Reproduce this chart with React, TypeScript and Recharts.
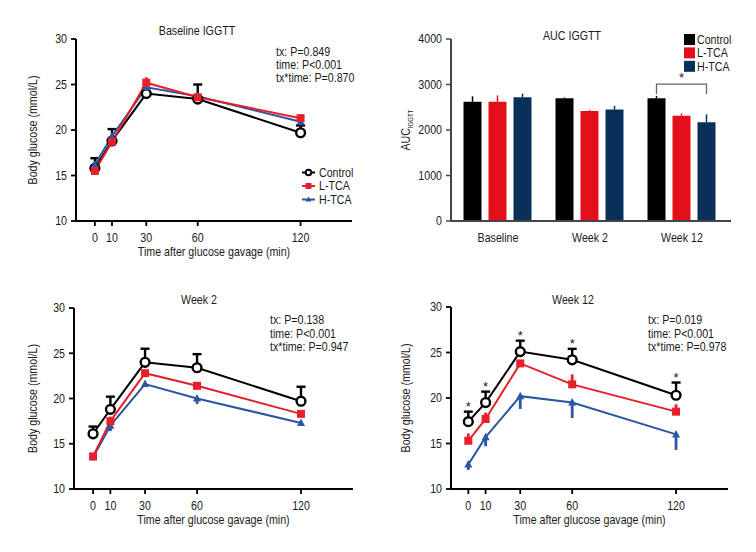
import {
  LineChart,
  Line,
  XAxis,
  YAxis,
  ErrorBar,
  ReferenceDot,
  Legend,
  BarChart,
  Bar,
  Label,
  LabelList,
} from "recharts";

const FONT = "'Liberation Sans', Arial, sans-serif";
const INK = "#1a1a1a";
const SQ = 0.82; // horizontal squeeze to mimic the condensed typeface
const FS = 13;
const RED = "#e5202a";
const BLUE = "#2c55a2";
const BAR_RED = "#e3101b";
const BAR_NAVY = "#08305a";
const BAR_GAP = 7;

const times = [0, 10, 30, 60, 120];
const timeTicks = [0, 10, 30, 60, 120];
const glucoseTicks = [10, 15, 20, 25, 30];

// baseline IGGTT
const baseControl = [15.8, 18.8, 24.0, 23.4, 19.7];
const baseControlSd = [1.1, 1.3, 0.6, 1.6, 0.8];
const baseL = [15.5, 18.7, 25.2, 23.6, 21.3];
const baseLSd = [0.3, 0.3, 0.6, 0.3, 0.4];
const baseH = [16.2, 19.3, 24.7, 23.7, 20.9];
const baseHSd = [0.4, 0.5, 0.4, 0.3, 0.4];

// week 2
const w2Control = [16.1, 18.8, 24.0, 23.4, 19.7];
const w2ControlSd = [0.8, 1.4, 1.5, 1.5, 1.6];
const w2L = [13.6, 17.5, 22.8, 21.4, 18.3];
const w2LSd = [0.3, 0.5, 0.3, 0.3, 0.4];
const w2H = [13.5, 17.0, 21.6, 20.0, 17.3];
const w2HSd = [0.3, 0.6, 0.3, 0.6, 0.3];

// week 12
const w12Control = [17.4, 19.5, 25.1, 24.2, 20.3];
const w12ControlSd = [1.1, 1.2, 1.2, 1.2, 1.4];
const w12L = [15.3, 17.7, 23.8, 21.5, 18.5];
const w12LSd = [0.8, 0.7, 0.3, 1.1, 0.8];
const w12H = [12.7, 15.7, 20.2, 19.5, 16.0];
const w12HSd = [0.6, 1.0, 1.4, 1.7, 1.7];

// AUC
const aucGroups = ["Baseline", "Week 2", "Week 12"];
const aucControl = [2620, 2700, 2700];
const aucControlSd = [120, 15, 50];
const aucL = [2620, 2420, 2315];
const aucLSd = [140, 20, 50];
const aucH = [2720, 2450, 2170];
const aucHSd = [80, 80, 175];
const aucTicks = [0, 1000, 2000, 3000, 4000];
// significance bracket over Week 12, Control vs H-TCA
const bracketGroup = 2;
const bracketTop = 3010;
const bracketFoot = 2790;

const buildRows = (
  c: number[], cSd: number[], l: number[], lSd: number[], h: number[], hSd: number[]
) =>
  times.map((t, i) => ({
    t,
    control: c[i],
    controlErr: [0, cSd[i]],
    ltca: l[i],
    ltcaErr: [0, lSd[i]],
    htca: h[i],
    htcaErr: [hSd[i], 0],
  }));

const baseRows = buildRows(baseControl, baseControlSd, baseL, baseLSd, baseH, baseHSd);
const w2Rows = buildRows(w2Control, w2ControlSd, w2L, w2LSd, w2H, w2HSd);
const w12Rows = buildRows(w12Control, w12ControlSd, w12L, w12LSd, w12H, w12HSd);

const aucRows = aucGroups.map((g, i) => ({
  group: g,
  control: aucControl[i],
  controlErr: [0, aucControlSd[i]],
  ltca: aucL[i],
  ltcaErr: [0, aucLSd[i]],
  htca: aucH[i],
  htcaErr: [0, aucHSd[i]],
}));

// condensed svg text
const CText = ({ x, y, anchor = "middle", rotate = 0, size = FS, children }: any) => (
  <text
    transform={`translate(${x},${y}) rotate(${rotate}) scale(${SQ},1)`}
    textAnchor={anchor}
    dominantBaseline="central"
    style={{ fontFamily: FONT, fontSize: size, fill: INK }}
  >
    {children}
  </text>
);

const XTick = (p: any) => <CText x={p.x} y={p.y}>{p.payload.value}</CText>;
const YTick = (p: any) => (
  <CText x={p.x} y={p.y} anchor="end">
    {p.payload.value}
  </CText>
);

const ControlDot = (p: any) => {
  if (p.cx == null || p.cy == null) return <g key={p.key} />;
  return (
    <circle key={p.key} cx={p.cx} cy={p.cy} r={4.4} fill="#fff" stroke="#000" strokeWidth={2.4} />
  );
};
const SquareDot = (p: any) => {
  if (p.cx == null || p.cy == null) return <g key={p.key} />;
  return <rect key={p.key} x={p.cx - 4} y={p.cy - 4} width={8} height={8} fill={RED} />;
};
const TriangleDot = (p: any) => {
  if (p.cx == null || p.cy == null) return <g key={p.key} />;
  return (
    <path
      key={p.key}
      d={`M${p.cx},${p.cy - 4.5}L${p.cx + 4},${p.cy + 3}L${p.cx - 4},${p.cy + 3}Z`}
      fill={BLUE}
    />
  );
};

const LineLegend = () => {
  const items = [
    { name: "Control", color: "#000", kind: "circle" },
    { name: "L-TCA", color: RED, kind: "square" },
    { name: "H-TCA", color: BLUE, kind: "triangle" },
  ];
  return (
    <svg width={70} height={42}>
      {items.map((it, i) => {
        const cy = 7.5 + i * 13.5;
        return (
          <g key={it.name}>
            <line x1={4} y1={cy} x2={17} y2={cy} stroke={it.color} strokeWidth={2} />
            {it.kind === "circle" && (
              <circle cx={10.5} cy={cy} r={2.8} fill="#fff" stroke="#000" strokeWidth={2} />
            )}
            {it.kind === "square" && <rect x={7.5} y={cy - 3} width={6} height={6} fill={RED} />}
            {it.kind === "triangle" && (
              <path d={`M10.5,${cy - 3}L13.5,${cy + 2}L7.5,${cy + 2}Z`} fill={BLUE} />
            )}
            <CText x={21} y={cy} anchor="start">
              {it.name}
            </CText>
          </g>
        );
      })}
    </svg>
  );
};

const BarLegend = () => {
  const items = [
    { name: "Control", color: "#000" },
    { name: "L-TCA", color: BAR_RED },
    { name: "H-TCA", color: BAR_NAVY },
  ];
  return (
    <svg width={70} height={42}>
      {items.map((it, i) => {
        const cy = 6.5 + i * 13.4;
        return (
          <g key={it.name}>
            <rect x={0} y={cy - 5.5} width={11} height={11} fill={it.color} />
            <CText x={13} y={cy} anchor="start">
              {it.name}
            </CText>
          </g>
        );
      })}
    </svg>
  );
};

type PanelProps = {
  left: number;
  top: number;
  title: string;
  titleX: number;
  titleY: number;
  rows: any[];
  pLines: string[];
  pX: number;
  pY: number;
  margin: { top: number; right: number; bottom: number; left: number };
  xDomain: [number, number];
  labelX: number;
  legend?: boolean;
  stars?: boolean;
};

const GlucosePanel = (props: PanelProps) => {
  const { rows, margin } = props;
  return (
    <div style={{ position: "absolute", left: props.left, top: props.top, width: 378, height: 276 }}>
      <LineChart width={378} height={276} data={rows} margin={margin}>
        <XAxis
          dataKey="t"
          type="number"
          domain={props.xDomain}
          ticks={timeTicks}
          allowDataOverflow
          height={38}
          tickSize={5}
          tickMargin={12}
          tick={XTick}
          axisLine={{ stroke: "#000", strokeWidth: 2 }}
          tickLine={{ stroke: "#000", strokeWidth: 1.8 }}
        >
          <Label
            content={(lp: any) => (
              <CText x={lp.viewBox.x + lp.viewBox.width / 2} y={lp.viewBox.y + 31}>
                Time after glucose gavage (min)
              </CText>
            )}
          />
        </XAxis>
        <YAxis
          type="number"
          domain={[10, 30]}
          ticks={glucoseTicks}
          width={40}
          tickSize={5}
          tickMargin={4}
          tick={YTick}
          axisLine={{ stroke: "#000", strokeWidth: 2 }}
          tickLine={{ stroke: "#000", strokeWidth: 1.8 }}
        >
          <Label
            content={(lp: any) => (
              <CText x={props.labelX} y={lp.viewBox.y + lp.viewBox.height / 2} rotate={-90}>
                Body glucose (mmol/L)
              </CText>
            )}
          />
        </YAxis>
        {/* error bars first so the markers sit on top of them */}
        <Line dataKey="control" stroke="none" dot={false} activeDot={false} legendType="none" isAnimationActive={false}>
          <ErrorBar dataKey="controlErr" width={4.5} stroke="#000" strokeWidth={2.4} direction="y" />
        </Line>
        <Line dataKey="htca" stroke="none" dot={false} activeDot={false} legendType="none" isAnimationActive={false}>
          <ErrorBar dataKey="htcaErr" width={0} stroke={BLUE} strokeWidth={2.8} direction="y" />
        </Line>
        <Line dataKey="ltca" stroke="none" dot={false} activeDot={false} legendType="none" isAnimationActive={false}>
          <ErrorBar dataKey="ltcaErr" width={0} stroke={RED} strokeWidth={2.8} direction="y" />
        </Line>
        <Line dataKey="control" stroke="#000" strokeWidth={2} dot={ControlDot} activeDot={false} isAnimationActive={false} />
        <Line dataKey="htca" stroke={BLUE} strokeWidth={2} dot={TriangleDot} activeDot={false} isAnimationActive={false} />
        <Line dataKey="ltca" stroke={RED} strokeWidth={2} dot={SquareDot} activeDot={false} isAnimationActive={false} />
        {props.stars &&
          rows.map((r) => (
            <ReferenceDot
              key={r.t}
              x={r.t}
              y={r.control + r.controlErr[1]}
              r={0}
              fill="none"
              stroke="none"
              label={{ value: "*", position: "top", offset: 1, style: { fontFamily: FONT, fontSize: 13, fill: INK } }}
            />
          ))}
        {props.legend && (
          <Legend
            layout="horizontal"
            verticalAlign="middle"
            align="center"
            content={() => <LineLegend />}
            wrapperStyle={{ position: "absolute", left: 298, top: 165, width: 70, height: 42 }}
          />
        )}
      </LineChart>
      <svg
        width={378}
        height={276}
        style={{ position: "absolute", left: 0, top: 0, pointerEvents: "none" }}
      >
        <CText x={props.titleX} y={props.titleY}>
          {props.title}
        </CText>
        {props.pLines.map((l, i) => (
          <CText key={l} x={props.pX} y={props.pY + i * 13.2} anchor="start">
            {l}
          </CText>
        ))}
      </svg>
    </div>
  );
};

const BracketLabel = (p: any) => {
  if (p.index !== bracketGroup && p.value !== aucL[bracketGroup]) return null;
  const x = Number(p.x);
  const y = Number(p.y);
  const w = Number(p.width);
  const h = Number(p.height);
  const base = y + h;
  const perUnit = h / Number(p.value);
  const yTop = base - bracketTop * perUnit;
  const yFoot = base - bracketFoot * perUnit;
  const mid = x + w / 2;
  const x0 = mid - (w + BAR_GAP);
  const x1 = mid + (w + BAR_GAP);
  return (
    <g>
      <path
        d={`M${x0},${yFoot}V${yTop}H${x1}V${yFoot}`}
        fill="none"
        stroke="#666"
        strokeWidth={1.3}
      />
      <text
        x={mid}
        y={yTop - 2}
        textAnchor="middle"
        style={{ fontFamily: FONT, fontSize: 13, fill: INK }}
      >
        *
      </text>
    </g>
  );
};

const AucPanel = () => (
  <div style={{ position: "absolute", left: 378, top: 0, width: 378, height: 276 }}>
    <BarChart
      width={378}
      height={276}
      data={aucRows}
      margin={{ top: 39, right: 25, bottom: 25, left: 33 }}
      barCategoryGap="12.5%"
      barGap={BAR_GAP}
    >
      <XAxis
        dataKey="group"
        height={30}
        tickSize={0}
        tickMargin={17}
        tick={XTick}
        padding={{ left: 1, right: 3 }}
        axisLine={{ stroke: "#444", strokeWidth: 2 }}
      />
      <YAxis
        type="number"
        domain={[0, 4000]}
        ticks={aucTicks}
        width={40}
        tickSize={5}
        tickMargin={4}
        tick={YTick}
        axisLine={{ stroke: "#444", strokeWidth: 2 }}
        tickLine={{ stroke: "#444", strokeWidth: 1.5 }}
      >
        <Label
          content={(lp: any) => {
            const x = 28;
            const y = lp.viewBox.y + lp.viewBox.height / 2;
            return (
              <text
                transform={`translate(${x},${y}) rotate(-90) scale(${SQ},1)`}
                textAnchor="middle"
                dominantBaseline="central"
                style={{ fontFamily: FONT, fontSize: FS, fill: INK }}
              >
                AUC
                <tspan fontSize={7.5} dy={4}>
                  IGGTT
                </tspan>
              </text>
            );
          }}
        />
      </YAxis>
      <Bar dataKey="control" fill="#000" isAnimationActive={false}>
        <ErrorBar dataKey="controlErr" width={0} stroke="#000" strokeWidth={1.5} direction="y" />
      </Bar>
      <Bar dataKey="ltca" fill={BAR_RED} isAnimationActive={false}>
        <ErrorBar dataKey="ltcaErr" width={0} stroke={BAR_RED} strokeWidth={1.5} direction="y" />
        <LabelList dataKey="ltca" content={BracketLabel} />
      </Bar>
      <Bar dataKey="htca" fill={BAR_NAVY} isAnimationActive={false}>
        <ErrorBar dataKey="htcaErr" width={0} stroke={BAR_NAVY} strokeWidth={1.5} direction="y" />
      </Bar>
      <Legend
        layout="horizontal"
        verticalAlign="middle"
        align="center"
        content={() => <BarLegend />}
        wrapperStyle={{ position: "absolute", left: 306, top: 33, width: 70, height: 42 }}
      />
    </BarChart>
    <svg
      width={378}
      height={276}
      style={{ position: "absolute", left: 0, top: 0, pointerEvents: "none" }}
    >
      <CText x={194} y={36}>
        AUC IGGTT
      </CText>
    </svg>
  </div>
);

export default function App() {
  return (
    <div style={{ position: "absolute", left: 0, top: 0, width: 756, height: 552, background: "#fff" }}>
      <GlucosePanel
        left={0}
        top={0}
        title="Baseline IGGTT"
        titleX={197}
        titleY={31}
        rows={baseRows}
        pLines={["tx: P=0.849", "time: P<0.001", "tx*time: P=0.870"]}
        pX={276}
        pY={51.5}
        margin={{ top: 39, right: 26, bottom: 17, left: 36 }}
        xDomain={[-11, 150]}
        labelX={33}
        legend
      />
      <AucPanel />
      <GlucosePanel
        left={0}
        top={276}
        title="Week 2"
        titleX={199}
        titleY={24}
        rows={w2Rows}
        pLines={["tx: P=0.138", "time: P<0.001", "tx*time: P=0.947"]}
        pX={270}
        pY={44}
        margin={{ top: 32, right: 25, bottom: 25, left: 34 }}
        xDomain={[-11, 150]}
        labelX={33}
      />
      <GlucosePanel
        left={378}
        top={276}
        title="Week 12"
        titleX={195}
        titleY={24}
        rows={w12Rows}
        pLines={["tx: P=0.019", "time: P<0.001", "tx*time: P=0.978"]}
        pX={270}
        pY={44}
        margin={{ top: 31, right: 28, bottom: 25, left: 33 }}
        xDomain={[-10, 150]}
        labelX={28}
        stars
      />
    </div>
  );
}
